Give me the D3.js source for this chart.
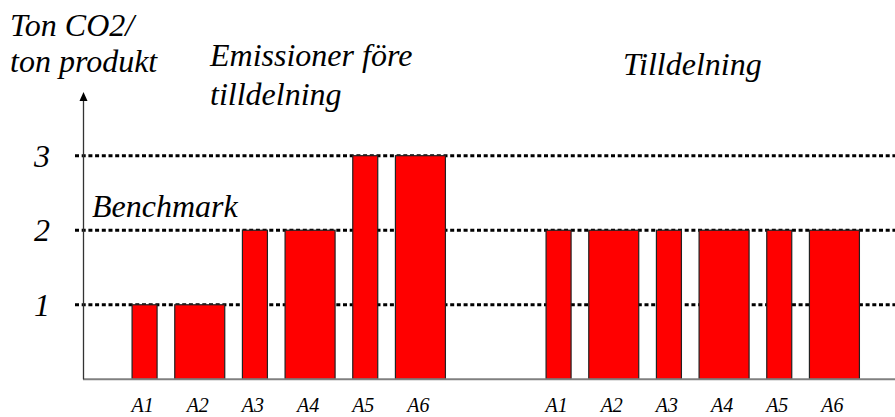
<!DOCTYPE html>
<html><head><meta charset="utf-8">
<script src="https://cdn.jsdelivr.net/npm/d3@7"></script>
<style>html,body{margin:0;padding:0;background:#fff;}svg{display:block;}
text{font-family:"Liberation Serif",serif;font-style:italic;fill:#000;}</style>
</head><body>
<svg id="c" width="895" height="417"></svg>
<script>
const categories = ["A1","A2","A3","A4","A5","A6"];
const emissions = [1,1,2,2,3,3];
const allocation = [2,2,2,2,2,2];
const volumes = [1,2,1,2,1,2];
const yTicks = [1,2,3];

const svg = d3.select("#c");
const y = d3.scaleLinear().domain([0,3]).range([379.3,155.7]);
const w = d3.scaleLinear().domain([0,2]).range([0,50]);
const xLeft = d3.scaleBand().domain(categories).range([117,448]);
const xRight = d3.scaleBand().domain(categories).range([531,862]);

// gridlines
svg.selectAll("line.grid").data(yTicks).join("line")
  .attr("x1",75).attr("x2",895)
  .attr("y1",d=>y(d)).attr("y2",d=>y(d))
  .attr("stroke","#000").attr("stroke-width",3).attr("stroke-dasharray","4,2.7");

// tick labels
svg.selectAll("text.tick").data(yTicks).join("text")
  .attr("x",42).attr("y",d=>y(d)+11)
  .attr("text-anchor","middle")
  .attr("font-size",32)
  .text(d=>d);

function bars(xs, vals){
  const g = svg.append("g");
  g.selectAll("rect").data(categories).join("rect")
    .attr("x",(d,i)=>xs(d)+xs.bandwidth()/2 - w(volumes[i])/2)
    .attr("width",(d,i)=>w(volumes[i]))
    .attr("y",(d,i)=>y(vals[i]))
    .attr("height",(d,i)=>y(0)-y(vals[i]))
    .attr("fill","#ff0000").attr("stroke","#222").attr("stroke-width",1.2);
  g.selectAll("text").data(categories).join("text")
    .attr("x",d=>xs(d)+xs.bandwidth()/2 - 2)
    .attr("y",412)
    .attr("text-anchor","middle")
    .attr("font-size",20)
    .text(d=>d);
}
bars(xLeft, emissions);
bars(xRight, allocation);

// x axis baseline
svg.append("line").attr("x1",83).attr("x2",895).attr("y1",y(0)).attr("y2",y(0))
  .attr("stroke","#808080").attr("stroke-width",2);
// y axis with arrow
svg.append("line").attr("x1",83.5).attr("x2",83.5).attr("y1",y(0)).attr("y2",98)
  .attr("stroke","#333").attr("stroke-width",1.3);
svg.append("path").attr("d","M83.5,92 L79.5,101 L87.5,101 Z").attr("fill","#000");

function label(txt,x,yy){
  svg.append("text").attr("x",x).attr("y",yy)
    .attr("font-size",32)
    .text(txt);
}
label("Ton CO2/",10,36);
label("ton produkt",10,72);
label("Emissioner före",210,66);
label("tilldelning",210,105);
label("Tilldelning",623,75);
label("Benchmark",92,217);
</script>
</body></html>
